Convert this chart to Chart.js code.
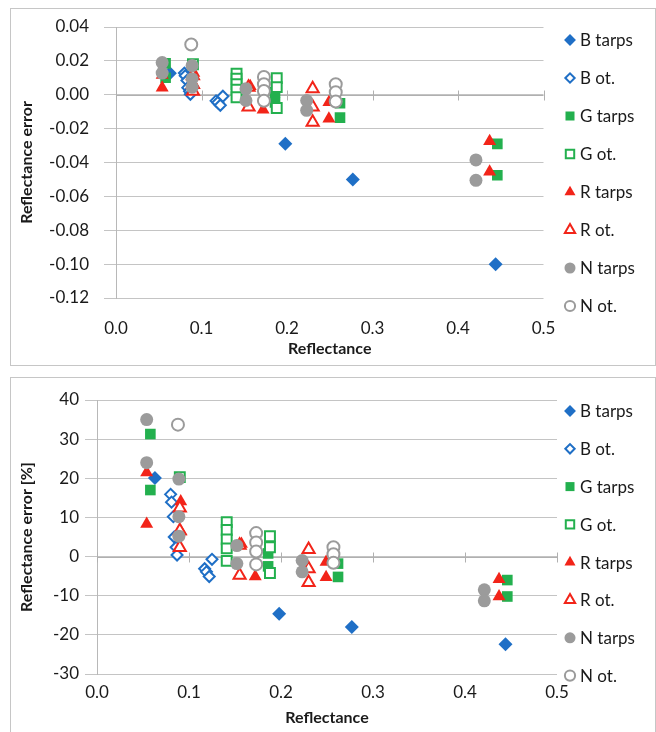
<!DOCTYPE html>
<html>
<head>
<meta charset="utf-8">
<script src="https://cdn.jsdelivr.net/npm/chart.js@4.4.1/dist/chart.umd.min.js"></script>
<style>
  body { margin: 0; background: #fff; width: 656px; height: 732px; overflow: hidden; position: relative; }
  .frame { position: absolute; border: 1px solid #c6c6c6; box-sizing: border-box; }
  #frameTop { left: 10px; top: 8px; width: 646px; height: 358px; }
  #frameBottom { left: 10px; top: 377px; width: 646px; height: 370px; }
  .box { position: absolute; left: 0; width: 656px; }
  #boxTop { top: 0; height: 370px; }
  #boxBottom { top: 372px; height: 360px; }
</style>
</head>
<body>
<div class="frame" id="frameTop"></div>
<div class="frame" id="frameBottom"></div>
<div class="box" id="boxTop"><canvas id="errChart"></canvas></div>
<div class="box" id="boxBottom"><canvas id="pctChart"></canvas></div>
<script>
// reflectance (x), absolute error (top chart) and relative error in % (bottom chart)
const bTarpsX   = [0.063, 0.198, 0.277, 0.444];
const bTarpsErr = [0.0127, -0.029, -0.050, -0.100];
const bTarpsPct = [20.1, -14.6, -18.0, -22.4];

const bOtX   = [0.080, 0.081, 0.083, 0.084, 0.086, 0.087, 0.117, 0.119, 0.122, 0.125];
const bOtErr = [0.0128, 0.0112, 0.0084, 0.0042, 0.0021, 0.0003, -0.0036, -0.0046, -0.0062, -0.0009];
const bOtPct = [15.9, 13.9, 10.2, 5.0, 2.4, 0.4, -3.1, -3.9, -5.1, -0.7];

const gTarpsX   = [0.058, 0.058, 0.186, 0.186, 0.262, 0.262, 0.446, 0.446];
const gTarpsErr = [0.0185, 0.0100, 0.0015, -0.0045, -0.0050, -0.0135, -0.029, -0.0475];
const gTarpsPct = [31.3, 17.0, 0.8, -2.5, -1.8, -5.2, -6.0, -10.2];

const gOtX   = [0.090, 0.141, 0.141, 0.141, 0.141, 0.141, 0.188, 0.188, 0.188];
const gOtErr = [0.018, 0.0125, 0.0095, 0.0062, 0.003, -0.0015, 0.0098, 0.0045, -0.0078];
const gOtPct = [20.3, 8.8, 6.8, 4.4, 2.1, -1.1, 5.2, 2.4, -4.2];

const rTarpsX   = [0.054, 0.054, 0.091, 0.091, 0.157, 0.172, 0.249, 0.249, 0.437, 0.437];
const rTarpsErr = [0.0117, 0.0042, 0.0128, 0.0058, 0.005, -0.0088, -0.0044, -0.0142, -0.0275, -0.0455];
const rTarpsPct = [21.5, 8.3, 14.1, 6.4, 3.2, -5.1, -1.4, -5.3, -5.8, -10.2];

const rOtX   = [0.090, 0.090, 0.090, 0.155, 0.155, 0.230, 0.230, 0.230];
const rOtErr = [0.0112, 0.006, 0.002, 0.0045, -0.0073, 0.0035, -0.0072, -0.0162];
const rOtPct = [12.4, 6.6, 2.3, 2.9, -4.8, 1.8, -3.1, -6.6];

const nTarpsX   = [0.054, 0.054, 0.089, 0.089, 0.089, 0.152, 0.152, 0.223, 0.223, 0.421, 0.421];
const nTarpsErr = [0.0190, 0.0128, 0.0172, 0.0094, 0.0045, 0.0035, -0.0034, -0.0034, -0.0092, -0.0385, -0.0505];
const nTarpsPct = [35.0, 24.0, 19.8, 10.2, 5.2, 2.8, -1.8, -1.0, -3.9, -8.5, -11.3];

const nOtX   = [0.088, 0.173, 0.173, 0.173, 0.173, 0.257, 0.257, 0.257];
const nOtErr = [0.0297, 0.0105, 0.0062, 0.0022, -0.0035, 0.0062, 0.0015, -0.0040];
const nOtPct = [33.7, 6.0, 3.6, 1.3, -2.0, 2.4, 0.6, -1.6];

const xTicks = [0.0, 0.1, 0.2, 0.3, 0.4, 0.5];
const errTicks = [0.04, 0.02, 0.00, -0.02, -0.04, -0.06, -0.08, -0.10, -0.12];
const pctTicks = [40, 30, 20, 10, 0, -10, -20, -30];

const BLUE = '#1f6fc6';
const GREEN = '#23b04e';
const RED = '#f22419';
const GREY = '#9b9b9b';
const FONT = 'Lato, "Open Sans", sans-serif';
const INK = '#1a1a1a';
const GRID = '#c4c4c4';

const series = [
  { label: 'B tarps', x: bTarpsX, err: bTarpsErr, pct: bTarpsPct, style: 'rectRot', color: BLUE, filled: true, r: 7 },
  { label: 'B ot.', x: bOtX, err: bOtErr, pct: bOtPct, style: 'rectRot', color: BLUE, filled: false, r: 5.5 },
  { label: 'G tarps', x: gTarpsX, err: gTarpsErr, pct: gTarpsPct, style: 'rect', color: GREEN, filled: true, r: 7.5 },
  { label: 'G ot.', x: gOtX, err: gOtErr, pct: gOtPct, style: 'rect', color: GREEN, filled: false, r: 7 },
  { label: 'R tarps', x: rTarpsX, err: rTarpsErr, pct: rTarpsPct, style: 'triangle', color: RED, filled: true, r: 7.5 },
  { label: 'R ot.', x: rOtX, err: rOtErr, pct: rOtPct, style: 'triangle', color: RED, filled: false, r: 7 },
  { label: 'N tarps', x: nTarpsX, err: nTarpsErr, pct: nTarpsPct, style: 'circle', color: GREY, filled: true, r: 6.5 },
  { label: 'N ot.', x: nOtX, err: nOtErr, pct: nOtPct, style: 'circle', color: GREY, filled: false, r: 6 }
];

function buildDatasets(key) {
  return series.map((s, i) => ({
    label: s.label,
    data: s.x.map((x, j) => ({ x: x, y: s[key][j] })),
    pointStyle: s.style,
    pointRadius: s.r,
    pointHoverRadius: s.r,
    pointBackgroundColor: s.filled ? s.color : '#ffffff',
    pointBorderColor: s.color,
    pointBorderWidth: s.filled ? 0 : 2,
    order: series.length - i   // later series on top
  }));
}

// axis line along y = 0 with small tick marks at each x tick
const zeroAxis = {
  id: 'zeroAxis',
  beforeDatasetsDraw(chart) {
    const { ctx, scales: { x, y } } = chart;
    const y0 = Math.round(y.getPixelForValue(0)) + 0.5;
    ctx.save();
    ctx.strokeStyle = '#b0b0b0';
    ctx.lineWidth = 1;
    ctx.beginPath();
    ctx.moveTo(x.left, y0);
    ctx.lineTo(x.right, y0);
    xTicks.forEach(v => {
      const px = Math.round(x.getPixelForValue(v)) + 0.5;
      ctx.moveTo(px, y0 - 5);
      ctx.lineTo(px, y0 + 5);
    });
    ctx.stroke();
    ctx.restore();
  }
};

// legend drawn as a fixed column to the right of the plot
const seriesKey = {
  id: 'seriesKey',
  afterDraw(chart, args, opts) {
    const ctx = chart.ctx;
    const drawPoint = Chart.helpers && Chart.helpers.drawPoint;
    ctx.save();
    ctx.font = '17px ' + FONT;
    ctx.textBaseline = 'middle';
    series.forEach((s, i) => {
      const cy = opts.y + i * opts.step;
      ctx.fillStyle = s.filled ? s.color : '#ffffff';
      ctx.strokeStyle = s.color;
      ctx.lineWidth = s.filled ? 0 : 2;
      if (drawPoint) {
        drawPoint(ctx, { pointStyle: s.style, radius: s.r * 0.85, rotation: 0, borderWidth: s.filled ? 0 : 2 }, opts.x, cy);
      }
      ctx.fillStyle = INK;
      ctx.fillText(s.label, opts.x + 10, cy + 1);
    });
    ctx.restore();
  }
};

function makeChart(id, key, cfg) {
  return new Chart(document.getElementById(id), {
    type: 'scatter',
    data: { datasets: buildDatasets(key) },
    plugins: [zeroAxis, seriesKey],
    options: {
      responsive: true,
      maintainAspectRatio: false,
      animation: false,
      events: [],
      layout: { autoPadding: false, padding: { left: 10, right: cfg.padRight, top: cfg.padTop, bottom: 0 } },
      plugins: {
        legend: { display: false },
        tooltip: { enabled: false },
        seriesKey: cfg.key
      },
      scales: {
        x: {
          type: 'linear', min: 0, max: 0.5,
          afterFit: s => { s.height = cfg.xHeight; },
          afterBuildTicks: s => { s.ticks = xTicks.map(v => ({ value: v })); },
          grid: { display: false },
          border: { display: false },
          ticks: { color: INK, font: { family: FONT, size: 17 }, padding: cfg.xPad, callback: v => v.toFixed(1) },
          title: { display: true, text: 'Reflectance', color: INK, font: { family: FONT, size: 16, weight: 'bold' }, padding: { top: 0, bottom: cfg.titlePad } }
        },
        y: {
          type: 'linear', min: cfg.yMin, max: cfg.yMax,
          afterFit: s => { s.width = cfg.yWidth; },
          afterBuildTicks: s => { s.ticks = cfg.yTicks.map(v => ({ value: v })); },
          grid: { color: GRID, lineWidth: 1, tickLength: 12, tickColor: GRID },
          border: { display: true, color: '#b8b8b8' },
          ticks: { color: INK, font: { family: FONT, size: 17 }, padding: cfg.yPad, callback: cfg.fmt },
          title: { display: true, text: cfg.yTitle, color: INK, font: { family: FONT, size: 16, weight: 'bold' }, padding: { top: 7, bottom: 0 } }
        }
      }
    }
  });
}

makeChart('errChart', 'err', {
  padRight: 112.5, padTop: 27, xHeight: 72, yWidth: 106,
  xPad: 12, yPad: 15, titlePad: 12,
  yMin: -0.12, yMax: 0.04, yTicks: errTicks,
  fmt: v => (Math.abs(v) < 1e-9 ? 0 : v).toFixed(2),
  yTitle: 'Reflectance error',
  key: { x: 570, y: 40, step: 38.0 }
});

makeChart('pctChart', 'pct', {
  padRight: 99, padTop: 28, xHeight: 58, yWidth: 87,
  xPad: 0, yPad: 6, titlePad: 5,
  yMin: -30, yMax: 40, yTicks: pctTicks,
  fmt: v => String(Math.round(v)),
  yTitle: 'Reflectance error [%]',
  key: { x: 570, y: 39, step: 37.8 }
});
</script>
</body>
</html>
